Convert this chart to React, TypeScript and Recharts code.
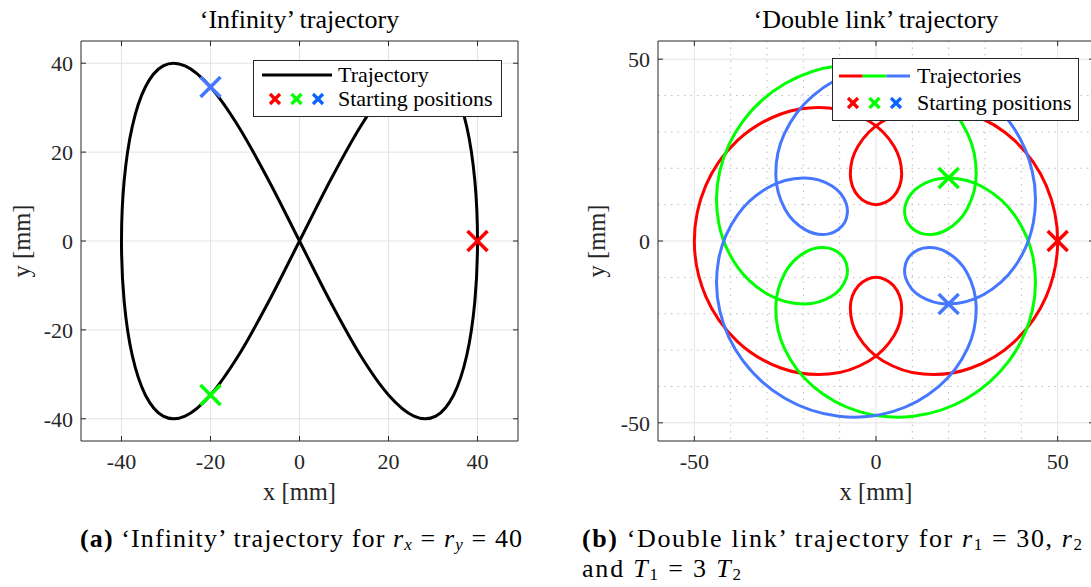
import React from 'react';
import { ScatterChart, Scatter, XAxis, YAxis, CartesianGrid, Legend } from 'recharts';

const FONT = '"Liberation Serif", "Times New Roman", serif';
const AXIS = '#262626';

// ---------- 'Infinity' trajectory ----------
const infinityTicks = [-40, -20, 0, 20, 40];
const infinityPath = [
  { x: 0, y: 0 }, { x: -6.95, y: -13.68 }, { x: -13.68, y: -25.71 }, { x: -20, y: -34.64 },
  { x: -25.71, y: -39.39 }, { x: -30.64, y: -39.39 }, { x: -34.64, y: -34.64 }, { x: -37.59, y: -25.71 },
  { x: -39.39, y: -13.68 }, { x: -40, y: 0 }, { x: -39.39, y: 13.68 }, { x: -37.59, y: 25.71 },
  { x: -34.64, y: 34.64 }, { x: -30.64, y: 39.39 }, { x: -25.71, y: 39.39 }, { x: -20, y: 34.64 },
  { x: -13.68, y: 25.71 }, { x: -6.95, y: 13.68 }, { x: 0, y: 0 }, { x: 6.95, y: -13.68 },
  { x: 13.68, y: -25.71 }, { x: 20, y: -34.64 }, { x: 25.71, y: -39.39 }, { x: 30.64, y: -39.39 },
  { x: 34.64, y: -34.64 }, { x: 37.59, y: -25.71 }, { x: 39.39, y: -13.68 }, { x: 40, y: 0 },
  { x: 39.39, y: 13.68 }, { x: 37.59, y: 25.71 }, { x: 34.64, y: 34.64 }, { x: 30.64, y: 39.39 },
  { x: 25.71, y: 39.39 }, { x: 20, y: 34.64 }, { x: 13.68, y: 25.71 }, { x: 6.95, y: 13.68 },
  { x: 0, y: 0 },
];
const infinityStarts = [
  { x: 40, y: 0 },
  { x: -20, y: -34.64 },
  { x: -20, y: 34.64 },
];

// ---------- 'Double link' trajectory ----------
const doubleTicks = [-50, 0, 50];
const doubleMinorTicks = [-40, -30, -20, -10, 10, 20, 30, 40];
const redPath = [
  { x: 50, y: 0 }, { x: 46.86, y: 15.21 }, { x: 38.19, y: 27.58 }, { x: 25.98, y: 35 },
  { x: 12.98, y: 36.6 }, { x: 1.96, y: 32.98 }, { x: -5, y: 25.98 }, { x: -7.06, y: 18.19 },
  { x: -4.79, y: 12.22 }, { x: 0, y: 10 }, { x: 4.79, y: 12.22 }, { x: 7.06, y: 18.19 },
  { x: 5, y: 25.98 }, { x: -1.96, y: 32.98 }, { x: -12.98, y: 36.6 }, { x: -25.98, y: 35 },
  { x: -38.19, y: 27.58 }, { x: -46.86, y: 15.21 }, { x: -50, y: 0 }, { x: -46.86, y: -15.21 },
  { x: -38.19, y: -27.58 }, { x: -25.98, y: -35 }, { x: -12.98, y: -36.6 }, { x: -1.96, y: -32.98 },
  { x: 5, y: -25.98 }, { x: 7.06, y: -18.19 }, { x: 4.79, y: -12.22 }, { x: 0, y: -10 },
  { x: -4.79, y: -12.22 }, { x: -7.06, y: -18.19 }, { x: -5, y: -25.98 }, { x: 1.96, y: -32.98 },
  { x: 12.98, y: -36.6 }, { x: 25.98, y: -35 }, { x: 38.19, y: -27.58 }, { x: 46.86, y: -15.21 },
  { x: 50, y: 0 },
];
const greenPath = [
  { x: 20, y: 17.32 }, { x: 12.22, y: 15.21 }, { x: 8.19, y: 10.26 }, { x: 8.66, y: 5 },
  { x: 12.98, y: 1.96 }, { x: 19.28, y: 2.98 }, { x: 25, y: 8.66 }, { x: 27.58, y: 18.19 },
  { x: 25.21, y: 29.54 }, { x: 17.32, y: 40 }, { x: 4.79, y: 46.86 }, { x: -10.26, y: 48.19 },
  { x: -25, y: 43.3 }, { x: -36.6, y: 32.98 }, { x: -42.98, y: 19.28 }, { x: -43.3, y: 5 },
  { x: -38.19, y: -7.06 }, { x: -29.54, y: -14.79 }, { x: -20, y: -17.32 }, { x: -12.22, y: -15.21 },
  { x: -8.19, y: -10.26 }, { x: -8.66, y: -5 }, { x: -12.98, y: -1.96 }, { x: -19.28, y: -2.98 },
  { x: -25, y: -8.66 }, { x: -27.58, y: -18.19 }, { x: -25.21, y: -29.54 }, { x: -17.32, y: -40 },
  { x: -4.79, y: -46.86 }, { x: 10.26, y: -48.19 }, { x: 25, y: -43.3 }, { x: 36.6, y: -32.98 },
  { x: 42.98, y: -19.28 }, { x: 43.3, y: -5 }, { x: 38.19, y: 7.06 }, { x: 29.54, y: 14.79 },
  { x: 20, y: 17.32 },
];
const bluePath = [
  { x: 20, y: -17.32 }, { x: 12.22, y: -15.21 }, { x: 8.19, y: -10.26 }, { x: 8.66, y: -5 },
  { x: 12.98, y: -1.96 }, { x: 19.28, y: -2.98 }, { x: 25, y: -8.66 }, { x: 27.58, y: -18.19 },
  { x: 25.21, y: -29.54 }, { x: 17.32, y: -40 }, { x: 4.79, y: -46.86 }, { x: -10.26, y: -48.19 },
  { x: -25, y: -43.3 }, { x: -36.6, y: -32.98 }, { x: -42.98, y: -19.28 }, { x: -43.3, y: -5 },
  { x: -38.19, y: 7.06 }, { x: -29.54, y: 14.79 }, { x: -20, y: 17.32 }, { x: -12.22, y: 15.21 },
  { x: -8.19, y: 10.26 }, { x: -8.66, y: 5 }, { x: -12.98, y: 1.96 }, { x: -19.28, y: 2.98 },
  { x: -25, y: 8.66 }, { x: -27.58, y: 18.19 }, { x: -25.21, y: 29.54 }, { x: -17.32, y: 40 },
  { x: -4.79, y: 46.86 }, { x: 10.26, y: 48.19 }, { x: 25, y: 43.3 }, { x: 36.6, y: 32.98 },
  { x: 42.98, y: 19.28 }, { x: 43.3, y: 5 }, { x: 38.19, y: -7.06 }, { x: 29.54, y: -14.79 },
  { x: 20, y: -17.32 },
];
const doubleStarts = [
  { x: 50, y: 0 },
  { x: 20, y: 17.32 },
  { x: 20, y: -17.32 },
];
const doublePaths = [redPath, greenPath, bluePath];

const seriesColors = ['#ff0000', '#00ff00', '#4678ff'];
const legendMarkerColors = ['#ff0000', '#00ff00', '#0a64ff'];

// closed Catmull-Rom curve factory (smooth rendering of a closed sampled path)
function closedCatmull(context: any) {
  let pts: number[][] = [];
  return {
    areaStart() {},
    areaEnd() {},
    lineStart() {
      pts = [];
    },
    point(x: number, y: number) {
      pts.push([+x, +y]);
    },
    lineEnd() {
      let n = pts.length;
      if (n === 0) return;
      if (n > 1 && Math.abs(pts[0][0] - pts[n - 1][0]) < 1e-6 && Math.abs(pts[0][1] - pts[n - 1][1]) < 1e-6) {
        pts.pop();
        n -= 1;
      }
      context.moveTo(pts[0][0], pts[0][1]);
      if (n < 3) {
        for (let i = 1; i < n; i++) context.lineTo(pts[i][0], pts[i][1]);
        return;
      }
      for (let i = 0; i < n; i++) {
        const p0 = pts[(i - 1 + n) % n];
        const p1 = pts[i];
        const p2 = pts[(i + 1) % n];
        const p3 = pts[(i + 2) % n];
        context.bezierCurveTo(
          p1[0] + (p2[0] - p0[0]) / 6,
          p1[1] + (p2[1] - p0[1]) / 6,
          p2[0] - (p3[0] - p1[0]) / 6,
          p2[1] - (p3[1] - p1[1]) / 6,
          p2[0],
          p2[1],
        );
      }
      context.closePath();
    },
  };
}

const NoShape = () => <g />;

const Cross = (props: any) => {
  const { cx, cy, fill } = props;
  if (cx == null || cy == null) return <g />;
  const r = 10;
  return (
    <g>
      <line x1={cx - r} y1={cy - r} x2={cx + r} y2={cy + r} stroke={fill} strokeWidth={3.5} />
      <line x1={cx - r} y1={cy + r} x2={cx + r} y2={cy - r} stroke={fill} strokeWidth={3.5} />
    </g>
  );
};

const SmallCross = ({ cx, cy, color }: { cx: number; cy: number; color: string }) => (
  <g>
    <line x1={cx - 5} y1={cy - 5} x2={cx + 5} y2={cy + 5} stroke={color} strokeWidth={3.2} />
    <line x1={cx - 5} y1={cy + 5} x2={cx + 5} y2={cy - 5} stroke={color} strokeWidth={3.2} />
  </g>
);

const InfinityLegend = () => (
  <svg width={249} height={57} style={{ display: 'block' }}>
    <rect x={0.5} y={0.5} width={248} height={56} fill="#fff" stroke={AXIS} strokeWidth={1} />
    <line x1={9} x2={79} y1={15} y2={15} stroke="#000" strokeWidth={3} />
    <text x={85} y={22} fontSize={22} fontFamily={FONT} fill="#000">Trajectory</text>
    {legendMarkerColors.map((c, i) => (
      <SmallCross key={i} cx={22 + i * 21.5} cy={39} color={c} />
    ))}
    <text x={85} y={46} fontSize={22} fontFamily={FONT} fill="#000">Starting positions</text>
  </svg>
);

const DoubleLegend = () => (
  <svg width={247} height={63} style={{ display: 'block' }}>
    <rect x={0.5} y={0.5} width={246} height={62} fill="#fff" stroke={AXIS} strokeWidth={1} />
    {seriesColors.map((c, i) => (
      <line key={i} x1={7 + i * 23.7} x2={7 + (i + 1) * 23.7} y1={18} y2={18} stroke={c} strokeWidth={3} />
    ))}
    <text x={85} y={25} fontSize={22} fontFamily={FONT} fill="#000">Trajectories</text>
    {legendMarkerColors.map((c, i) => (
      <SmallCross key={i} cx={21 + i * 21.5} cy={45} color={c} />
    ))}
    <text x={85} y={52} fontSize={22} fontFamily={FONT} fill="#000">Starting positions</text>
  </svg>
);

const tickStyle = { fontSize: 22, fontFamily: FONT, fill: AXIS };
const blank = () => '';

export default function App() {
  return (
    <div
      style={{
        position: 'absolute',
        left: 0,
        top: 0,
        width: 1091,
        height: 587,
        overflow: 'hidden',
        background: '#fff',
        fontFamily: FONT,
      }}
    >
      {/* Left: Infinity */}
      <div style={{ position: 'absolute', left: 0, top: 0 }}>
        <ScatterChart width={560} height={520} margin={{ top: 0, right: 0, bottom: 0, left: 0 }}>
          <CartesianGrid stroke="#e3e3e3" strokeWidth={1} verticalValues={infinityTicks} horizontalValues={infinityTicks} />
          <XAxis
            type="number"
            dataKey="x"
            domain={[-49.1, 49.1]}
            ticks={infinityTicks}
            allowDataOverflow
            height={79}
            tickSize={-5}
            tickMargin={17}
            stroke={AXIS}
            tick={tickStyle}
            label={{ value: 'x [mm]', position: 'insideBottom', offset: 20, fill: AXIS, fontSize: 24.5, fontFamily: FONT }}
          />
          <YAxis
            type="number"
            dataKey="y"
            domain={[-45, 45]}
            ticks={infinityTicks}
            allowDataOverflow
            width={81}
            tickSize={-5}
            tickMargin={13}
            stroke={AXIS}
            tick={tickStyle}
            label={{ value: 'y [mm]', angle: -90, position: 'insideLeft', offset: 21, fill: AXIS, fontSize: 24.5, fontFamily: FONT, style: { textAnchor: 'middle' } }}
          />
          <XAxis
            xAxisId="top"
            orientation="top"
            type="number"
            dataKey="x"
            domain={[-49.1, 49.1]}
            ticks={infinityTicks}
            allowDataOverflow
            height={41}
            tickSize={-5}
            tickFormatter={blank}
            stroke={AXIS}
          />
          <YAxis
            yAxisId="right"
            orientation="right"
            type="number"
            dataKey="y"
            domain={[-45, 45]}
            ticks={infinityTicks}
            allowDataOverflow
            width={42}
            tickSize={-5}
            tickFormatter={blank}
            stroke={AXIS}
          />
          <Scatter
            name="Trajectory"
            data={infinityPath}
            fill="#000"
            line={{ stroke: '#000', strokeWidth: 3 }}
            lineJointType={closedCatmull as any}
            shape={NoShape}
            isAnimationActive={false}
          />
          {infinityStarts.map((p, i) => (
            <Scatter
              key={i}
              name="Starting positions"
              data={[p]}
              xAxisId="top"
              yAxisId="right"
              fill={seriesColors[i]}
              shape={Cross}
              isAnimationActive={false}
            />
          ))}
          <Legend
            layout="vertical"
            align="center"
            verticalAlign="middle"
            wrapperStyle={{ left: 253, top: 60, width: 249, height: 57 }}
            content={() => <InfinityLegend />}
          />
        </ScatterChart>
      </div>

      {/* Right: Double link */}
      <div style={{ position: 'absolute', left: 570, top: 0 }}>
        <ScatterChart width={530} height={520} margin={{ top: 0, right: 0, bottom: 0, left: 0 }}>
          <CartesianGrid stroke="#e3e3e3" strokeWidth={1} verticalValues={doubleTicks} horizontalValues={doubleTicks} />
          <CartesianGrid
            stroke="#bdbdbd"
            strokeWidth={1}
            strokeDasharray="1.5 5"
            verticalValues={doubleMinorTicks}
            horizontalValues={doubleMinorTicks}
          />
          <XAxis
            type="number"
            dataKey="x"
            domain={[-60, 60]}
            ticks={doubleTicks}
            allowDataOverflow
            height={79}
            tickSize={-5}
            tickMargin={17}
            stroke={AXIS}
            tick={tickStyle}
            label={{ value: 'x [mm]', position: 'insideBottom', offset: 20, fill: AXIS, fontSize: 24.5, fontFamily: FONT }}
          />
          <YAxis
            type="number"
            dataKey="y"
            domain={[-55, 55]}
            ticks={doubleTicks}
            allowDataOverflow
            width={88}
            tickSize={-5}
            tickMargin={13}
            stroke={AXIS}
            tick={tickStyle}
            label={{ value: 'y [mm]', angle: -90, position: 'insideLeft', offset: 26, fill: AXIS, fontSize: 24.5, fontFamily: FONT, style: { textAnchor: 'middle' } }}
          />
          <XAxis
            xAxisId="top"
            orientation="top"
            type="number"
            dataKey="x"
            domain={[-60, 60]}
            ticks={doubleTicks}
            allowDataOverflow
            height={41}
            tickSize={-5}
            tickFormatter={blank}
            stroke={AXIS}
          />
          <YAxis
            yAxisId="right"
            orientation="right"
            type="number"
            dataKey="y"
            domain={[-55, 55]}
            ticks={doubleTicks}
            allowDataOverflow
            width={6}
            tickSize={-5}
            tickFormatter={blank}
            stroke={AXIS}
          />
          {doublePaths.map((path, i) => (
            <Scatter
              key={`p${i}`}
              name="Trajectories"
              data={path}
              fill={seriesColors[i]}
              line={{ stroke: seriesColors[i], strokeWidth: 3 }}
              lineJointType={closedCatmull as any}
              shape={NoShape}
              isAnimationActive={false}
            />
          ))}
          {doubleStarts.map((p, i) => (
            <Scatter
              key={`s${i}`}
              name="Starting positions"
              data={[p]}
              xAxisId="top"
              yAxisId="right"
              fill={seriesColors[i]}
              shape={Cross}
              isAnimationActive={false}
            />
          ))}
          <Legend
            layout="vertical"
            align="center"
            verticalAlign="middle"
            wrapperStyle={{ left: 262, top: 58, width: 247, height: 63 }}
            content={() => <DoubleLegend />}
          />
        </ScatterChart>
      </div>

      {/* Titles and captions */}
      <svg
        width={1091}
        height={587}
        style={{ position: 'absolute', left: 0, top: 0, pointerEvents: 'none' }}
        fontFamily={FONT}
      >
        <text x={299.5} y={28} textAnchor="middle" fontSize={26} fill="#000">‘Infinity’ trajectory</text>
        <text x={876} y={28} textAnchor="middle" fontSize={26} fill="#000">‘Double link’ trajectory</text>
        <text x={80} y={547} fontSize={26} fill="#000" textLength={442} lengthAdjust="spacing" style={{ whiteSpace: 'pre' }}>
          <tspan fontWeight="bold">(a)</tspan>
          <tspan>{' ‘Infinity’ trajectory for '}</tspan>
          <tspan fontStyle="italic">r</tspan>
          <tspan fontStyle="italic" fontSize={17} dy={3}>x</tspan>
          <tspan dy={-3}>{' = '}</tspan>
          <tspan fontStyle="italic">r</tspan>
          <tspan fontStyle="italic" fontSize={17} dy={3}>y</tspan>
          <tspan dy={-3}>{' = 40'}</tspan>
        </text>
        <text x={582} y={547} fontSize={26} fill="#000" textLength={500} lengthAdjust="spacing" style={{ whiteSpace: 'pre' }}>
          <tspan fontWeight="bold">(b)</tspan>
          <tspan>{' ‘Double link’ trajectory for '}</tspan>
          <tspan fontStyle="italic">r</tspan>
          <tspan fontSize={17} dy={3}>1</tspan>
          <tspan dy={-3}>{' = 30, '}</tspan>
          <tspan fontStyle="italic">r</tspan>
          <tspan fontSize={17} dy={3}>2</tspan>
        </text>
        <text x={582} y={577} fontSize={26} fill="#000" textLength={159} lengthAdjust="spacing" style={{ whiteSpace: 'pre' }}>
          <tspan>{'and '}</tspan>
          <tspan fontStyle="italic">T</tspan>
          <tspan fontSize={17} dy={3}>1</tspan>
          <tspan dy={-3}>{' = 3 '}</tspan>
          <tspan fontStyle="italic">T</tspan>
          <tspan fontSize={17} dy={3}>2</tspan>
        </text>
      </svg>
    </div>
  );
}
